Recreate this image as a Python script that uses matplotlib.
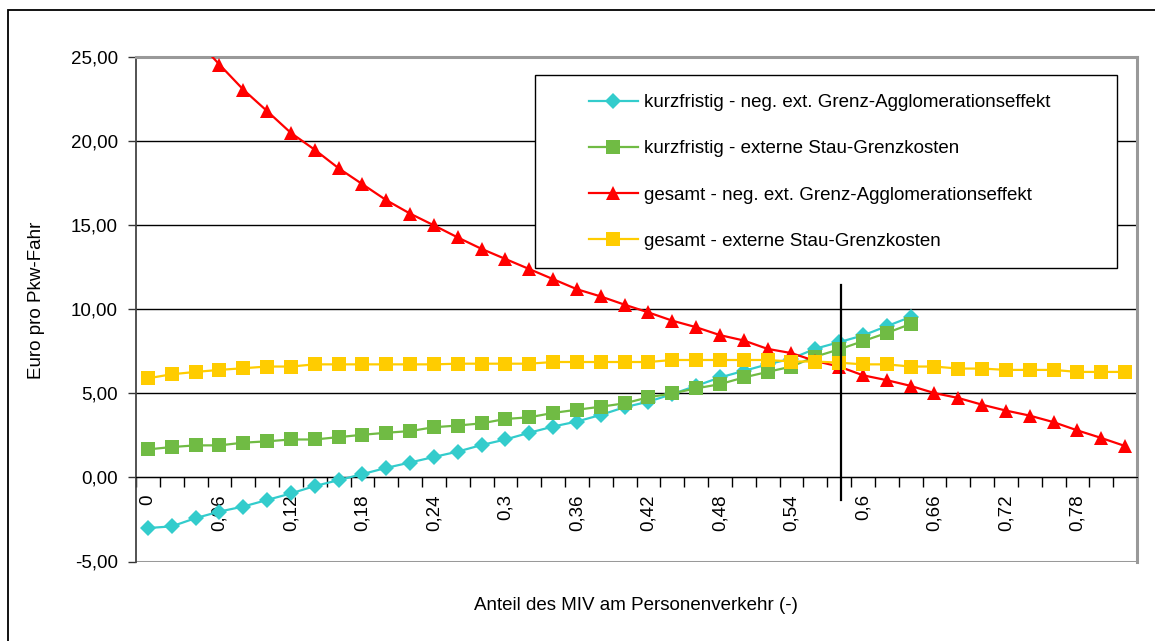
import matplotlib.pyplot as plt
from matplotlib.patches import Rectangle
from matplotlib.ticker import FuncFormatter, FixedLocator

# Anteil des MIV (Kategorien)
shares = [0, 0.02, 0.04, 0.06, 0.08, 0.10, 0.12, 0.14, 0.16, 0.18, 0.20,
          0.22, 0.24, 0.26, 0.28, 0.30, 0.32, 0.34, 0.36, 0.38, 0.40, 0.42,
          0.44, 0.46, 0.48, 0.50, 0.52, 0.54, 0.56, 0.58, 0.60, 0.62, 0.64,
          0.66, 0.68, 0.70, 0.72, 0.74, 0.76, 0.78, 0.80, 0.82]

kurz_agglo = [-3.01, -2.91, -2.42, -2.03, -1.73, -1.34, -0.95, -0.51, -0.16, 0.20,
              0.57, 0.89, 1.22, 1.54, 1.93, 2.26, 2.66, 3.03, 3.33, 3.72, 4.18,
              4.51, 4.96, 5.45, 5.95, 6.34, 6.73, 7.07, 7.66, 8.05, 8.45, 9.00, 9.55]
kurz_stau = [1.67, 1.81, 1.91, 1.91, 2.07, 2.15, 2.26, 2.26, 2.40, 2.54, 2.66,
             2.76, 2.99, 3.09, 3.22, 3.48, 3.58, 3.84, 4.03, 4.21, 4.41, 4.77,
             5.00, 5.30, 5.55, 5.95, 6.28, 6.60, 7.19, 7.62, 8.11, 8.60, 9.13]
ges_agglo = [29.3, 27.7, 26.1, 24.57, 23.08, 21.8, 20.5, 19.5, 18.4, 17.45, 16.5,
             15.7, 15.0, 14.28, 13.6, 13.0, 12.4, 11.8, 11.2, 10.77, 10.28, 9.82,
             9.33, 8.94, 8.47, 8.15, 7.65, 7.40, 6.93, 6.60, 6.08, 5.79, 5.45,
             5.02, 4.73, 4.33, 3.98, 3.68, 3.29, 2.80, 2.35, 1.87]
ges_stau = [5.90, 6.14, 6.28, 6.40, 6.50, 6.60, 6.60, 6.73, 6.73, 6.73, 6.73,
            6.73, 6.73, 6.77, 6.77, 6.77, 6.77, 6.87, 6.87, 6.87, 6.87, 6.87,
            6.99, 6.99, 6.99, 6.99, 6.99, 6.90, 6.90, 6.83, 6.73, 6.73, 6.60,
            6.60, 6.48, 6.48, 6.40, 6.40, 6.40, 6.28, 6.28, 6.28]

labels = ['kurzfristig - neg. ext. Grenz-Agglomerationseffekt',
          'kurzfristig - externe Stau-Grenzkosten',
          'gesamt - neg. ext. Grenz-Agglomerationseffekt',
          'gesamt - externe Stau-Grenzkosten']
xtick_vals = [0, 0.06, 0.12, 0.18, 0.24, 0.30, 0.36, 0.42, 0.48, 0.54, 0.60, 0.66, 0.72, 0.78]
xtick_text = ['0', '0,06', '0,12', '0,18', '0,24', '0,3', '0,36', '0,42', '0,48',
              '0,54', '0,6', '0,66', '0,72', '0,78']
marker_x = 0.5815   # senkrechte Markierung

plt.rcParams['font.family'] = 'Liberation Sans'
FS = 13.5
W, H = 1155, 641

fig = plt.figure(figsize=(W / 100, H / 100), dpi=100)
ax = fig.add_axes([136 / W, 1 - 561.5 / H, 1001 / W, (561.5 - 57.3) / H])

styles = [
    (kurz_agglo, '#33CCCC', 'D', 8.5),
    (kurz_stau, '#70BB44', 's', 9.5),
    (ges_agglo, '#FF0000', '^', 10),
    (ges_stau, '#FFCC00', 's', 9.5),
]
handles = []
for (vals, col, mk, ms), lab in zip(styles, labels):
    h, = ax.plot(shares[:len(vals)], vals, color=col, lw=1.6, marker=mk,
                 markersize=ms, markeredgewidth=0, zorder=3, label=lab)
    handles.append(h)

ax.plot([marker_x, marker_x], [-1.35, 11.45], color='black', lw=1.6, zorder=4)

ax.set_xlim(-0.01, 0.83)
ax.set_ylim(-5, 25)

# y-Achse
ax.set_yticks(range(-5, 26, 5))
ax.yaxis.set_major_formatter(FuncFormatter(lambda v, p: ('%.2f' % v).replace('.', ',')))
ax.tick_params(axis='y', direction='out', length=6, width=1, color='#333333',
               pad=7, labelsize=FS)
for yv in range(0, 25, 5):
    ax.axhline(yv, color='black', lw=1, zorder=1)
ax.axhline(-5, color='#999999', lw=2.2, zorder=1)

# x-Achse bei y = 0
ax.spines['bottom'].set_position(('data', 0))
ax.spines['bottom'].set_color('black')
ax.spines['left'].set_color('#444444')
ax.spines['left'].set_linewidth(1.3)
for s in ('top', 'right'):
    ax.spines[s].set_color('#999999')
    ax.spines[s].set_linewidth(2.2)
ax.set_xticks(xtick_vals)
ax.set_xticklabels(xtick_text, rotation=90, va='top', ha='center')
ax.xaxis.set_minor_locator(FixedLocator([-0.01 + 0.02 * k for k in range(43)]))
ax.tick_params(axis='x', which='major', length=0, pad=12, labelsize=FS)
ax.tick_params(axis='x', which='minor', direction='out', length=7, width=1, color='black')

fig.text(37 / W, 1 - 300 / H, 'Euro pro Pkw-Fahr', rotation=90, ha='center',
         va='center', fontsize=FS)
fig.text(636 / W, 1 - 606 / H, 'Anteil des MIV am Personenverkehr (-)', ha='center',
         va='center', fontsize=FS)

# Rahmen des Diagramms und der Legende
fig.add_artist(Rectangle((8 / W, -0.2), 1.2, 1.2 - 10 / H, transform=fig.transFigure,
                         fill=False, ec='black', lw=1.3))
fig.add_artist(Rectangle((535 / W, 1 - 268 / H), 582 / W, 193 / H, transform=fig.transFigure,
                         fc='white', ec='black', lw=1, zorder=4))
fig.legend(handles=handles, labels=labels, loc='upper left',
           bbox_to_anchor=(589 / W, 1 - 94 / H), frameon=False, fontsize=FS,
           borderpad=0, borderaxespad=0, handlelength=2.6, handletextpad=0.35,
           labelspacing=1.55, numpoints=1)

fig.savefig('out.png', dpi=100)
